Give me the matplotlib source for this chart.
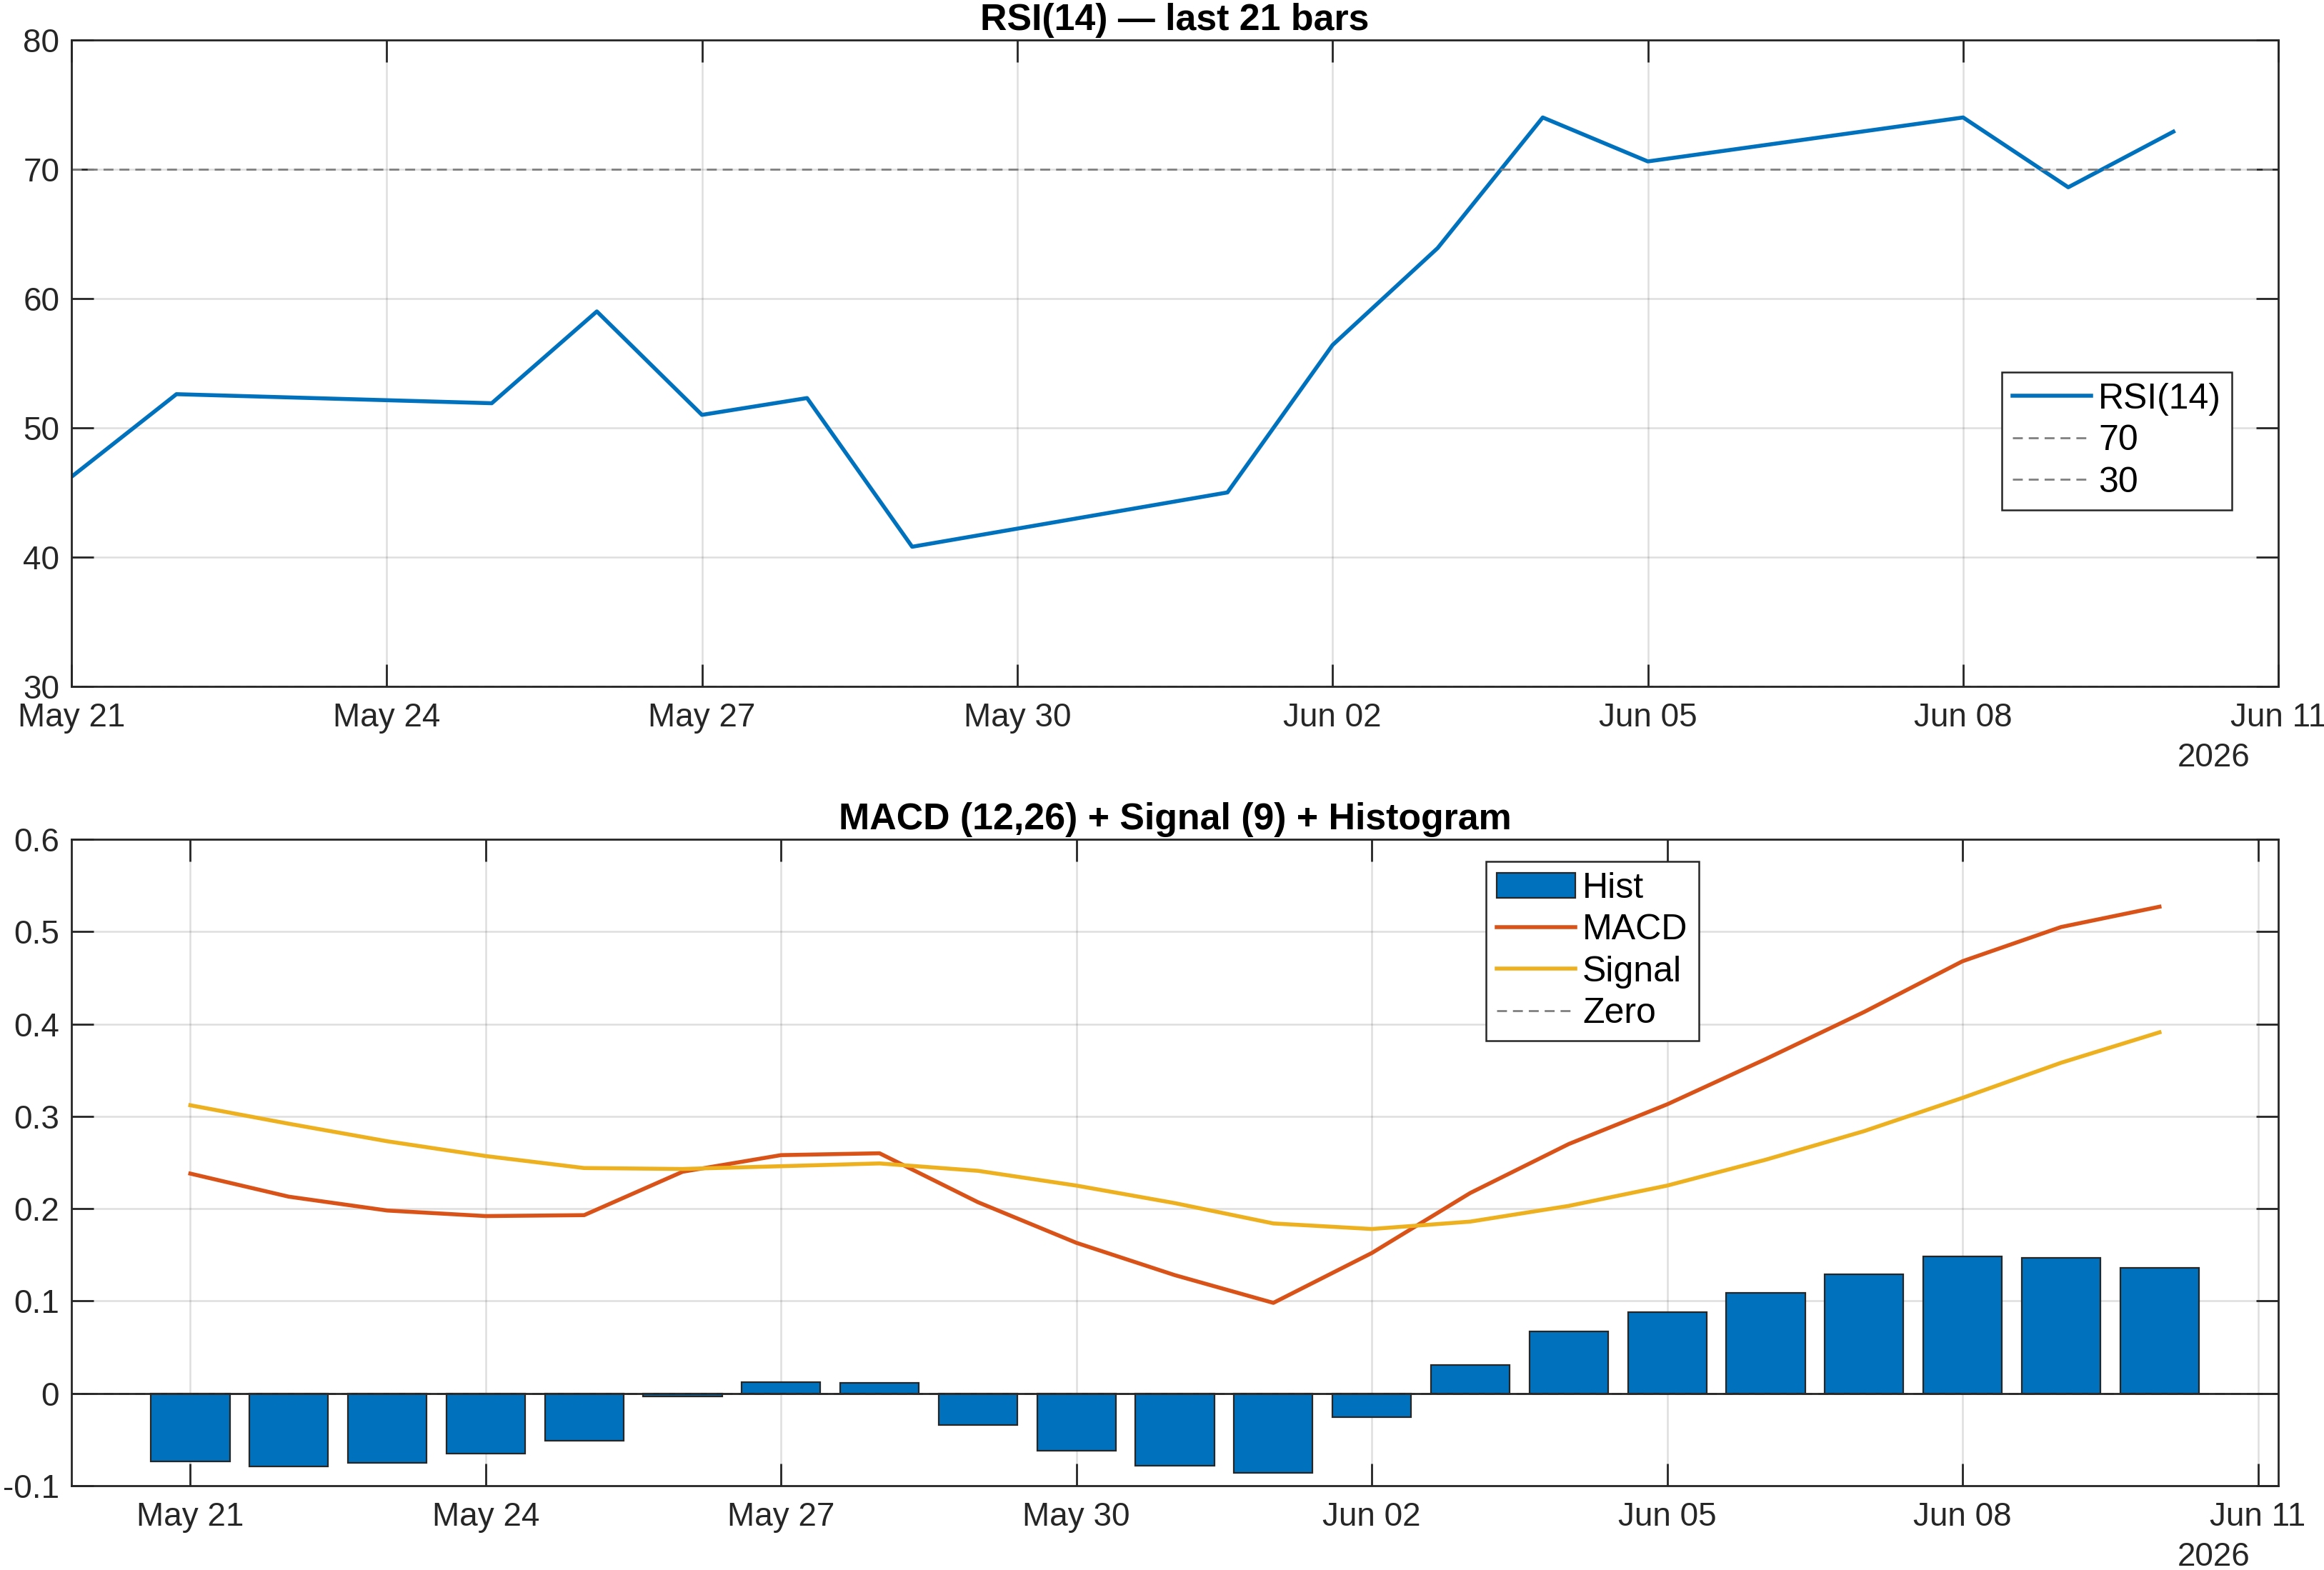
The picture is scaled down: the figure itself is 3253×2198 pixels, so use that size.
import numpy as np
import pandas as pd
import matplotlib
matplotlib.use("Agg")
import matplotlib.pyplot as plt
import matplotlib.dates as mdates

plt.rcParams['font.family'] = ['Liberation Sans', 'DejaVu Sans']

# RSI(14), trading days only
rsi_dates = pd.to_datetime([
    "2026-05-21", "2026-05-22", "2026-05-25", "2026-05-26", "2026-05-27",
    "2026-05-28", "2026-05-29", "2026-06-01", "2026-06-02", "2026-06-03",
    "2026-06-04", "2026-06-05", "2026-06-08", "2026-06-09", "2026-06-10",
])
rsi_vals = [46.2, 52.6, 51.9, 59.0, 51.0, 52.3, 40.8, 45.0, 56.4, 63.9,
            74.0, 70.6, 74.0, 68.6, 72.9]

# MACD panel, 21 consecutive days
macd_dates = pd.date_range("2026-05-21", "2026-06-10", freq="D")
macd_vals = [0.238, 0.213, 0.198, 0.192, 0.193, 0.240, 0.258, 0.260, 0.207, 0.163,
             0.128, 0.098, 0.152, 0.217, 0.270, 0.313, 0.362, 0.413, 0.468, 0.505, 0.527]
signal_vals = [0.312, 0.292, 0.273, 0.257, 0.244, 0.243, 0.246, 0.249, 0.241, 0.225,
               0.206, 0.184, 0.178, 0.186, 0.203, 0.225, 0.253, 0.284, 0.320, 0.358, 0.391]
hist_vals = [m - s for m, s in zip(macd_vals, signal_vals)]

tick_dates = pd.date_range("2026-05-21", "2026-06-11", freq="3D")

blue = '#0072BD'
orange = '#D95319'
yellow = '#EDB120'
axcol = '#262626'
fs = 16.5
tfs = 18.7
lfs = 18

fig = plt.figure(figsize=(16.265, 10.99), dpi=200)
ax1 = fig.add_axes([0.0307, 0.5628, 0.9497, 0.4118])
ax2 = fig.add_axes([0.0307, 0.0537, 0.9497, 0.4117])


def style(ax):
    for s in ax.spines.values():
        s.set_color(axcol)
        s.set_linewidth(1.0)
    ax.tick_params(direction='in', length=11, width=1.0, color=axcol,
                   top=True, right=True, labelsize=fs, labelcolor=axcol)
    ax.tick_params(axis='x', pad=8)
    ax.tick_params(axis='y', pad=6)
    ax.grid(True, color='#262626', alpha=0.15, linewidth=0.9)
    ax.set_axisbelow(True)
    ax.set_xticks(tick_dates)
    ax.xaxis.set_major_formatter(mdates.DateFormatter('%b %d'))
    ax.annotate('2026', xy=(0.987, 0), xycoords='axes fraction', xytext=(0, -36),
                textcoords='offset points', ha='right', va='center', fontsize=fs, color=axcol)


def legend(ax, handles, labels, **kw):
    leg = ax.legend(handles, labels, fontsize=lfs, fancybox=False, framealpha=1,
                    edgecolor=axcol, handlelength=2.2, handletextpad=0.2, borderpad=0.3,
                    labelspacing=0.25, borderaxespad=0, **kw)
    leg.get_frame().set_linewidth(0.9)
    return leg


# top: RSI
ax1.plot(rsi_dates, rsi_vals, color=blue, lw=2.0, label='RSI(14)')
ax1.axhline(70, color='#808080', ls='--', lw=1.0, dashes=(5, 3), label='70')
ax1.axhline(30, color='#808080', ls='--', lw=1.0, dashes=(5, 3), label='30')
ax1.set_xlim(pd.Timestamp("2026-05-21"), pd.Timestamp("2026-06-11"))
ax1.set_ylim(30, 80)
ax1.set_yticks(np.arange(30, 81, 10))
style(ax1)
ax1.set_title('RSI(14) — last 21 bars', fontsize=tfs, fontweight='bold', color='#000000', pad=5)
h, l = ax1.get_legend_handles_labels()
legend(ax1, h, l, loc='lower right', bbox_to_anchor=(0.979, 0.273))

# bottom: MACD
bars = ax2.bar(macd_dates, hist_vals, width=0.8, color=blue, edgecolor='#262626',
               linewidth=0.8, label='Hist', zorder=2)
l_macd, = ax2.plot(macd_dates, macd_vals, color=orange, lw=2.0, label='MACD', zorder=3)
l_sig, = ax2.plot(macd_dates, signal_vals, color=yellow, lw=2.0, label='Signal', zorder=3)
l_zero = ax2.axhline(0, color='#808080', ls='--', lw=1.0, dashes=(5, 3), label='Zero', zorder=2)
ax2.axhline(0, color='#262626', lw=1.0, zorder=2.5)
ax2.set_xlim(pd.Timestamp("2026-05-19 19:00"), pd.Timestamp("2026-06-11 05:00"))
ax2.set_ylim(-0.1, 0.6)
ax2.set_yticks(np.round(np.arange(-0.1, 0.61, 0.1), 1))
ax2.yaxis.set_major_formatter(matplotlib.ticker.FuncFormatter(lambda v, p: f'{v:g}'))
style(ax2)
ax2.set_title('MACD (12,26) + Signal (9) + Histogram', fontsize=tfs, fontweight='bold',
              color='#000000', pad=5)
legend(ax2, [bars, l_macd, l_sig, l_zero], ['Hist', 'MACD', 'Signal', 'Zero'],
       loc='upper left', bbox_to_anchor=(0.641, 0.966))

fig.savefig('out.png', dpi=200)
